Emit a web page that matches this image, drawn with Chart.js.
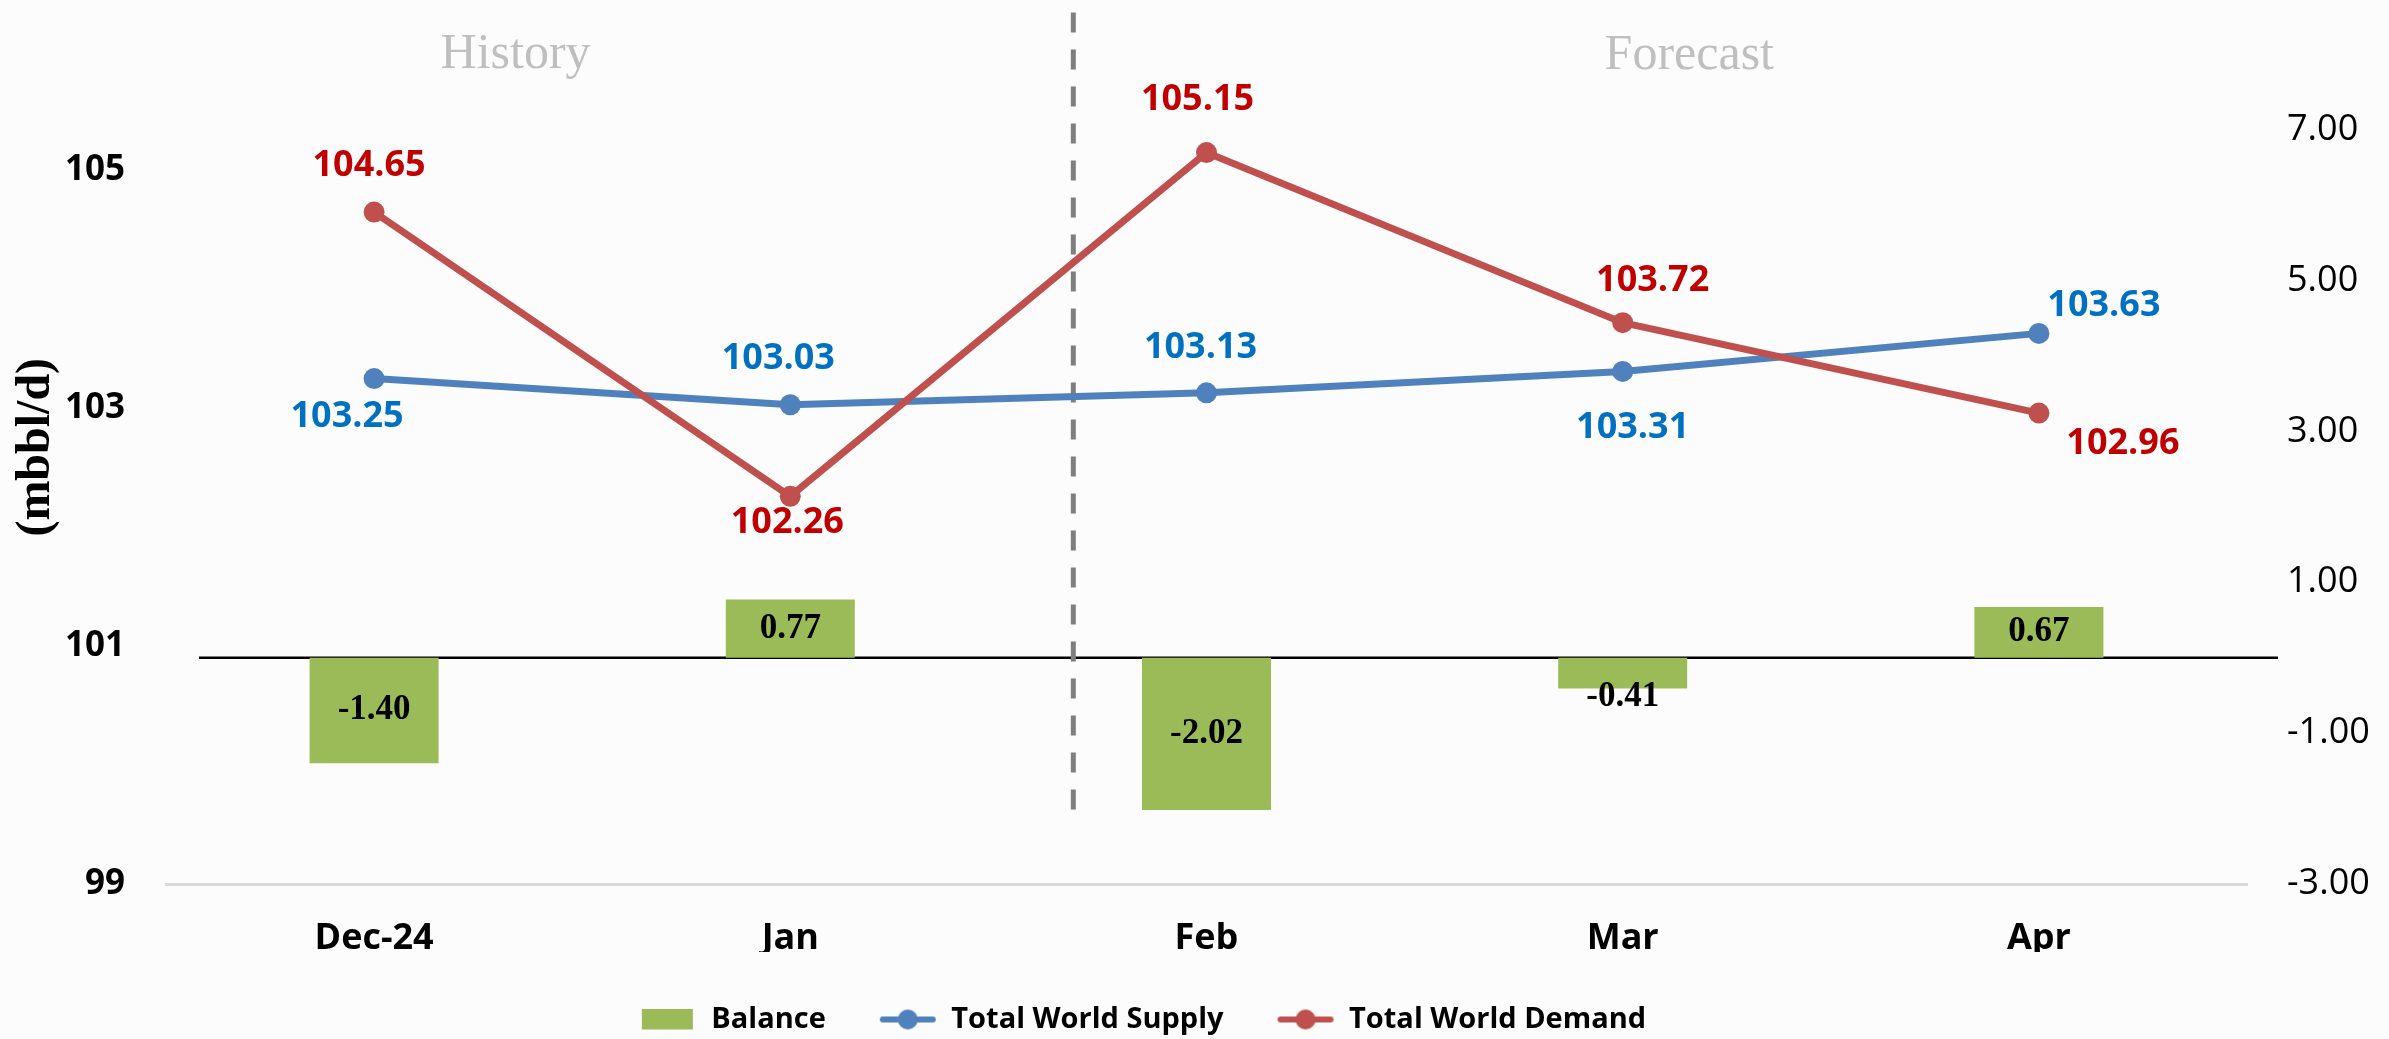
<!DOCTYPE html>
<html>
<head>
<meta charset="utf-8">
<script src="https://cdn.jsdelivr.net/npm/chart.js@4.4.1/dist/chart.umd.min.js"></script>
<style>
  html, body { margin: 0; padding: 0; background: #fcfcfc; }
  #wrap { width: 2389px; height: 1039px; position: relative; }
</style>
</head>
<body>
<div id="wrap"><canvas id="balance"></canvas></div>
<script>
var months = ['Dec-24', 'Jan', 'Feb', 'Mar', 'Apr'];
var supply = [103.25, 103.03, 103.13, 103.31, 103.63];
var demand = [104.65, 102.26, 105.15, 103.72, 102.96];
var balance = [-1.40, 0.77, -2.02, -0.41, 0.67];
var leftTicks = [99, 101, 103, 105];
var rightTicks = [-3, -1, 1, 3, 5, 7];

var SANS = 'Open Sans';
var SERIF = 'Liberation Serif';

// where each value label sits relative to its point (px)
var labelShift = {
  supply: [[-27, 38], [-12, -46], [-6, -45], [10, 56], [65, -28]],
  demand: [[-5, -46], [-3, 26], [-9, -53], [30, -42], [84, 31]]
};

function legendSymbol(kind, color) {
  var c = document.createElement('canvas');
  c.width = 58;
  c.height = 22;
  var g = c.getContext('2d');
  g.fillStyle = color;
  if (kind === 'box') {
    g.fillRect(3, 0, 51, 21);
  } else {
    g.strokeStyle = color;
    g.lineWidth = 6;
    g.lineCap = 'round';
    g.beginPath();
    g.moveTo(4, 11);
    g.lineTo(54, 11);
    g.stroke();
    g.beginPath();
    g.arc(29, 11, 10, 0, Math.PI * 2);
    g.fill();
  }
  return c;
}

var overlay = {
  id: 'overlay',
  afterLayout: function(chart) {
    // legend sits a bit left of centre in the original
    chart.legend.left -= 52;
    chart.legend.right -= 52;
  },
  beforeDatasetsDraw: function(chart) {
    var ctx = chart.ctx, area = chart.chartArea;
    var x = chart.scales.x, y = chart.scales.y, y1 = chart.scales.y1;
    ctx.save();

    var zy = y1.getPixelForValue(0);
    ctx.strokeStyle = '#000';
    ctx.lineWidth = 2.5;
    ctx.beginPath();
    ctx.moveTo(area.left + 33, zy);
    ctx.lineTo(area.right + 31, zy);
    ctx.stroke();

    var dx = x.getPixelForValue(1.68);
    ctx.strokeStyle = '#7f7f7f';
    ctx.lineWidth = 5;
    ctx.setLineDash([20, 17]);
    ctx.beginPath();
    ctx.moveTo(dx, area.top + 2);
    ctx.lineTo(dx, y.getPixelForValue(99.6));
    ctx.stroke();
    ctx.setLineDash([]);

    ctx.font = '50px "' + SERIF + '"';
    ctx.fillStyle = '#bfbfbf';
    ctx.textAlign = 'center';
    ctx.textBaseline = 'alphabetic';
    ctx.fillText('History', x.getPixelForValue(0.34), 68);
    ctx.fillText('Forecast', x.getPixelForValue(3.16), 69);
    ctx.restore();
  },
  afterDatasetsDraw: function(chart) {
    var ctx = chart.ctx;
    ctx.save();
    ctx.textAlign = 'center';
    ctx.textBaseline = 'middle';

    ctx.font = 'bold 35px "' + SERIF + '"';
    ctx.fillStyle = '#000';
    chart.getDatasetMeta(0).data.forEach(function(bar, i) {
      var h = bar.base - bar.y;
      var ly = (bar.y + bar.base) / 2;
      if (Math.abs(h) < 40) ly = bar.y + (h < 0 ? 8 : -8);
      ctx.fillText(balance[i].toFixed(2), bar.x, ly);
    });

    ctx.font = 'bold 36px "' + SANS + '"';
    [[1, supply, labelShift.supply, '#0070c0'], [2, demand, labelShift.demand, '#c00000']].forEach(function(s) {
      ctx.fillStyle = s[3];
      chart.getDatasetMeta(s[0]).data.forEach(function(pt, i) {
        ctx.fillText(s[1][i].toFixed(2), pt.x + s[2][i][0], pt.y + s[2][i][1]);
      });
    });
    ctx.restore();
  }
};

new Chart(document.getElementById('balance'), {
  type: 'bar',
  data: {
    labels: months,
    datasets: [
      {
        label: 'Balance',
        data: balance,
        yAxisID: 'y1',
        backgroundColor: '#9bbb59',
        barPercentage: 0.31,
        categoryPercentage: 1,
        order: 3
      },
      {
        type: 'line',
        label: 'Total World Supply',
        data: supply,
        yAxisID: 'y',
        borderColor: '#4f81bd',
        backgroundColor: '#4f81bd',
        pointBackgroundColor: '#4f81bd',
        borderWidth: 7,
        pointRadius: 10.5,
        pointBorderWidth: 0,
        tension: 0,
        order: 2
      },
      {
        type: 'line',
        label: 'Total World Demand',
        data: demand,
        yAxisID: 'y',
        borderColor: '#c0504d',
        backgroundColor: '#c0504d',
        pointBackgroundColor: '#c0504d',
        borderWidth: 7,
        pointRadius: 10.5,
        pointBorderWidth: 0,
        tension: 0,
        order: 1
      }
    ]
  },
  options: {
    responsive: true,
    maintainAspectRatio: false,
    animation: false,
    devicePixelRatio: 1,
    layout: { padding: { top: 10, left: 0, right: 0, bottom: -5 } },
    scales: {
      x: {
        offset: true,
        grid: { drawOnChartArea: false, drawTicks: false },
        border: { color: '#d9d9d9', width: 3 },
        ticks: { color: '#000', padding: 33, font: { family: SANS, size: 36, weight: 'bold' } },
        afterFit: function(s) { s.height = 68; s.paddingLeft = 0; s.paddingRight = 0; }
      },
      y: {
        position: 'left',
        min: 99,
        max: 106.345,
        grid: { display: false, drawTicks: false },
        border: { display: false },
        afterBuildTicks: function(s) { s.ticks = leftTicks.map(function(v) { return { value: v }; }); },
        ticks: {
          color: '#000',
          padding: 41,
          font: { family: SANS, size: 35, weight: 'bold' },
          callback: function(v) { return String(v); }
        },
        title: {
          display: true,
          text: '(mbbl/d)',
          color: '#000',
          font: { family: SERIF, size: 48, weight: 'bold' },
          padding: { top: 8, bottom: 0 }
        },
        afterFit: function(s) { s.width = 166; s.paddingTop = 0; s.paddingBottom = 0; }
      },
      y1: {
        position: 'right',
        min: -3,
        max: 8.576,
        grid: { display: false, drawTicks: false },
        border: { display: false },
        afterBuildTicks: function(s) { s.ticks = rightTicks.map(function(v) { return { value: v }; }); },
        ticks: {
          color: '#000',
          padding: 40,
          font: { family: SANS, size: 36 },
          callback: function(v) { return v.toFixed(2); }
        },
        afterFit: function(s) { s.width = 142; s.paddingTop = 0; s.paddingBottom = 0; }
      }
    },
    plugins: {
      tooltip: { enabled: false },
      legend: {
        position: 'bottom',
        labels: {
          usePointStyle: true,
          pointStyleWidth: 58,
          padding: 53,
          color: '#000',
          font: { family: SANS, size: 29, weight: 'bold' },
          generateLabels: function(chart) {
            return chart.data.datasets.map(function(ds, i) {
              return {
                text: ds.label,
                pointStyle: legendSymbol(i === 0 ? 'box' : 'line', ds.backgroundColor),
                fillStyle: ds.backgroundColor,
                strokeStyle: ds.backgroundColor,
                lineWidth: 0,
                fontColor: '#000',
                hidden: false,
                datasetIndex: i
              };
            });
          }
        }
      }
    }
  },
  plugins: [overlay]
});
</script>
</body>
</html>
